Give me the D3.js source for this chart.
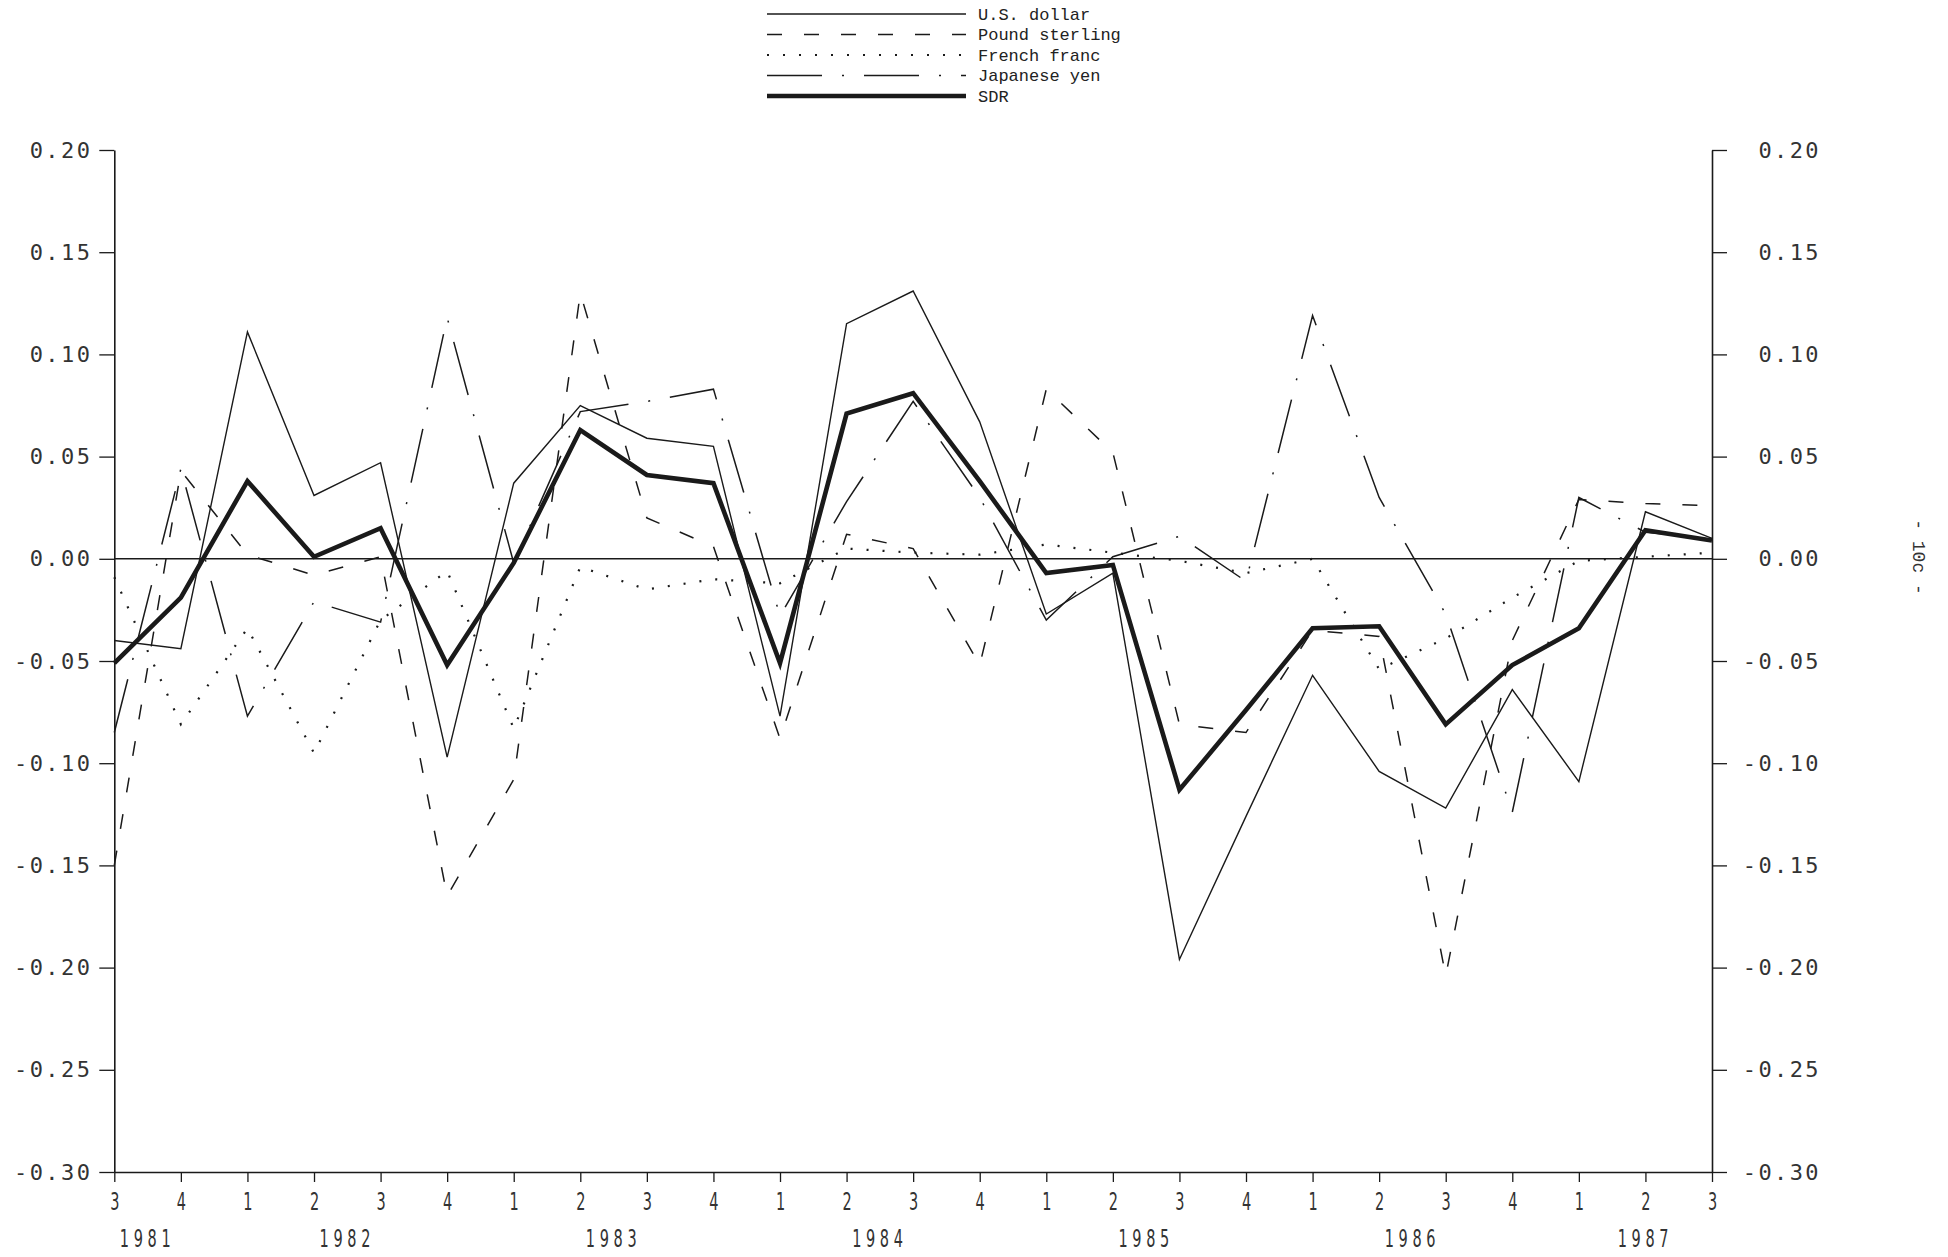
<!DOCTYPE html>
<html>
<head>
<meta charset="utf-8">
<script src="https://cdn.jsdelivr.net/npm/d3@7"></script>
<style>
  html, body { margin: 0; padding: 0; background: #fff; }
  svg { display: block; }
</style>
</head>
<body>
<svg id="chart" width="1948" height="1257"></svg>
<script>
// ---- data ----
const periods = ["1981-3","1981-4","1982-1","1982-2","1982-3","1982-4","1983-1","1983-2","1983-3","1983-4",
                 "1984-1","1984-2","1984-3","1984-4","1985-1","1985-2","1985-3","1985-4","1986-1","1986-2",
                 "1986-3","1986-4","1987-1","1987-2","1987-3"];
const usDollar      = [-0.040,-0.044, 0.111, 0.031, 0.047,-0.097, 0.037, 0.075, 0.059, 0.055,
                       -0.077, 0.115, 0.131, 0.067,-0.027,-0.007,-0.196,-0.126,-0.057,-0.104,
                       -0.122,-0.064,-0.109, 0.023, 0.010];
const poundSterling = [-0.150, 0.043, 0.002,-0.008, 0.001,-0.165,-0.108, 0.130, 0.020, 0.006,
                       -0.088, 0.012, 0.005,-0.052, 0.083, 0.052,-0.081,-0.085,-0.035,-0.038,
                       -0.204,-0.040, 0.029, 0.027, 0.026];
const frenchFranc   = [-0.009,-0.081,-0.034,-0.095,-0.030,-0.006,-0.083,-0.004,-0.015,-0.010,
                       -0.012, 0.005, 0.003, 0.002, 0.007, 0.003,-0.001,-0.007, 0.000,-0.054,
                       -0.039,-0.019,-0.001, 0.001, 0.003];
const japaneseYen   = [-0.085, 0.044,-0.077,-0.021,-0.031, 0.118,-0.002, 0.072, 0.077, 0.083,
                       -0.028, 0.028, 0.077, 0.030,-0.030, 0.001, 0.011,-0.011, 0.119, 0.030,
                       -0.027,-0.124, 0.030, 0.013, 0.010];
const sdr           = [-0.051,-0.019, 0.038, 0.001, 0.015,-0.052,-0.002, 0.063, 0.041, 0.037,
                       -0.051, 0.071, 0.081, 0.038,-0.007,-0.003,-0.113,-0.074,-0.034,-0.033,
                       -0.081,-0.052,-0.034, 0.014, 0.009];
const yTickLabels = ["0.20","0.15","0.10","0.05","0.00","-0.05","-0.10","-0.15","-0.20","-0.25","-0.30"];
const seriesNames = ["U.S. dollar","Pound sterling","French franc","Japanese yen","SDR"];
const pageMark = "- 10c -";

// ---- layout ----
const svg = d3.select("#chart");
const X0 = 114.3, X1 = 1712, YT = 150, YB = 1172;
const x = d3.scaleLinear().domain([0, periods.length - 1]).range([X0, X1]);
const y = d3.scaleLinear().domain([-0.30, 0.20]).range([YB, YT]);
const ink = "#1a1a1a";

const styles = [
  {data: usDollar,      width: 1.4, dash: null},
  {data: poundSterling, width: 1.5, dash: "15,22"},
  {data: frenchFranc,   width: 2.2, dash: "2,14"},
  {data: japaneseYen,   width: 1.5, dash: "55,20,2,20"},
  {data: sdr,           width: 4.6, dash: null}
];

// axes
const yTickValues = yTickLabels.map(Number);
const fmt = d => yTickLabels[yTickValues.indexOf(d)] || d.toFixed(2);

const leftAxis = d3.axisLeft(y).tickValues(yTickValues).tickFormat(fmt).tickSize(15).tickSizeOuter(0).tickPadding(7);
const gl = svg.append("g").attr("transform", `translate(${X0},0)`).call(leftAxis);
const rightAxis = d3.axisRight(y).tickValues(yTickValues).tickFormat(fmt).tickSize(15).tickSizeOuter(0);
const gr = svg.append("g").attr("transform", `translate(${X1},0)`).call(rightAxis);
gr.selectAll(".tick text").attr("x", 109).attr("text-anchor", "end");

[gl, gr].forEach(g => {
  g.selectAll("path.domain").attr("stroke", ink).attr("stroke-width", 1.6);
  g.selectAll(".tick line").attr("stroke", ink).attr("stroke-width", 1.3);
  g.selectAll(".tick text")
    .attr("fill", "#333")
    .style("font-family", "'DejaVu Sans Mono', monospace")
    .style("font-size", "22px")
    .style("letter-spacing", "2.4px");
});

// bottom axis
const quarterLabels = periods.map(p => p.split("-")[1]);
const bottomAxis = d3.axisBottom(x).tickValues(d3.range(periods.length))
  .tickFormat(i => quarterLabels[i]).tickSize(10).tickSizeOuter(0).tickPadding(10);
const gb = svg.append("g").attr("transform", `translate(0,${YB})`).call(bottomAxis);
gb.selectAll("path.domain").attr("stroke", ink).attr("stroke-width", 1.6);
gb.selectAll(".tick line").attr("stroke", ink).attr("stroke-width", 1.3);
gb.selectAll(".tick text")
  .attr("fill", "#333")
  .attr("transform", "scale(0.58,1)")
  .style("font-family", "'DejaVu Sans', sans-serif")
  .style("font-size", "25px");

// year labels (centred over the quarters of each year)
const years = Array.from(d3.group(periods.map((p, i) => ({year: p.split("-")[0], i})), d => d.year),
  ([year, arr]) => ({year, cx: d3.mean(arr, d => x(d.i))}));
svg.append("g").selectAll("text").data(years).join("text")
  .attr("transform", d => `translate(${d.cx},1247) scale(0.58,1)`)
  .attr("text-anchor", "middle")
  .attr("fill", "#333")
  .style("font-family", "'DejaVu Sans', sans-serif")
  .style("font-size", "25px")
  .style("letter-spacing", "8px")
  .text(d => d.year);

// zero line
svg.append("line")
  .attr("x1", x(0)).attr("x2", x(periods.length - 1))
  .attr("y1", y(0)).attr("y2", y(0))
  .attr("stroke", ink).attr("stroke-width", 1.4);

// series lines
const line = d3.line().x((d, i) => x(i)).y(d => y(d));
svg.append("g").selectAll("path").data(styles).join("path")
  .attr("d", s => line(s.data))
  .attr("fill", "none")
  .attr("stroke", ink)
  .attr("stroke-width", s => s.width)
  .attr("stroke-dasharray", s => s.dash)
  .attr("stroke-linejoin", "miter");

// legend
const legY = d3.scaleLinear().domain([0, seriesNames.length - 1]).range([14, 96]);
const lg = svg.append("g");
lg.selectAll("line").data(styles).join("line")
  .attr("x1", 767).attr("x2", 966)
  .attr("y1", (d, i) => legY(i)).attr("y2", (d, i) => legY(i))
  .attr("stroke", ink)
  .attr("stroke-width", s => s.width)
  .attr("stroke-dasharray", s => s.dash);
lg.selectAll("text").data(seriesNames).join("text")
  .attr("x", 978).attr("y", (d, i) => legY(i)).attr("dy", "0.35em")
  .attr("fill", "#222")
  .style("font-family", "'Liberation Mono', 'DejaVu Sans Mono', monospace")
  .style("font-size", "17px")
  .text(d => d);

// page mark on the right margin
svg.append("text")
  .attr("transform", "translate(1913,557) rotate(90)")
  .attr("text-anchor", "middle")
  .attr("fill", "#333")
  .style("font-family", "'Liberation Mono', monospace")
  .style("font-size", "18px")
  .text(pageMark);
</script>
</body>
</html>
